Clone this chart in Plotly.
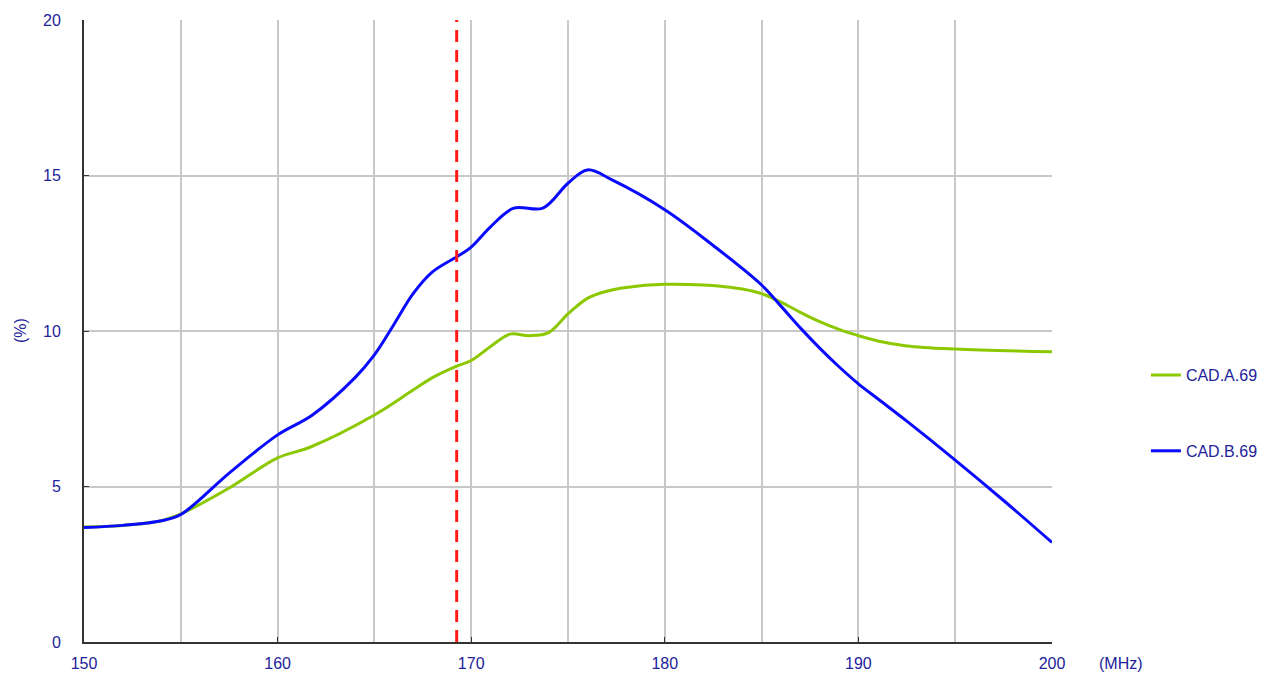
import plotly.graph_objects as go

# Data
freq_a = [150, 152, 154, 155, 157.5, 160, 161.7, 165, 167, 168, 169.25, 170, 171, 172, 173, 174, 175, 176, 177, 178, 180, 182, 183, 184, 185, 186, 187, 188, 189, 190, 191, 192.5, 195, 200]
cad_a = [3.7, 3.75, 3.9, 4.12, 4.95, 5.92, 6.27, 7.3, 8.1, 8.5, 8.87, 9.05, 9.5, 9.9, 9.85, 9.95, 10.55, 11.05, 11.28, 11.4, 11.5, 11.48, 11.43, 11.35, 11.2, 10.93, 10.6, 10.3, 10.05, 9.85, 9.68, 9.52, 9.42, 9.33]

freq_b = [150, 152, 154, 155, 157.5, 160, 161.8, 164, 165, 166, 167, 168, 169.4, 170, 171, 172.2, 173.7, 175, 176, 177.3, 180, 182.5, 185, 186, 187, 188, 189, 190, 191, 192.5, 195, 197.5, 200]
cad_b = [3.68, 3.75, 3.9, 4.1, 5.43, 6.66, 7.3, 8.5, 9.23, 10.2, 11.2, 11.9, 12.44, 12.7, 13.35, 13.95, 13.95, 14.75, 15.18, 14.85, 13.9, 12.75, 11.48, 10.8, 10.1, 9.45, 8.85, 8.3, 7.82, 7.1, 5.85, 4.55, 3.2]

marker_freq = 169.25

x_tickvals = [150, 160, 170, 180, 190, 200]
x_ticktext = ["150", "160", "170", "180", "190", "200"]
y_tickvals = [0, 5, 10, 15, 20]
y_ticktext = ["0", "5", "10", "15", "20"]

label_color = "#22229a"
font_family = "Liberation Sans, Arial, sans-serif"

fig = go.Figure()
fig.add_trace(go.Scatter(x=freq_a, y=cad_a, mode="lines", name="CAD.A.69",
                         line=dict(color="#8cc800", width=3, shape="spline", smoothing=1.0),
                         legendgroup="a"))
fig.add_trace(go.Scatter(x=freq_b, y=cad_b, mode="lines", name="CAD.B.69",
                         line=dict(color="#0a0aff", width=3, shape="spline", smoothing=1.0),
                         legendgroup="b"))

fig.add_shape(type="line", x0=marker_freq, x1=marker_freq, y0=0, y1=20,
              xref="x", yref="y", line=dict(color="#ff1a1a", width=3, dash="12px,8px"))

fig.add_annotation(text="(MHz)", xref="paper", yref="paper", x=1.0465, y=0, yshift=-21,
                   showarrow=False, xanchor="left", yanchor="middle",
                   font=dict(size=16, color=label_color, family=font_family))
fig.add_annotation(text="(%)", xref="paper", yref="paper", x=-0.066, y=0.5,
                   textangle=-90, showarrow=False, xanchor="center", yanchor="middle",
                   font=dict(size=16, color=label_color, family=font_family))

# page body has an 8px margin, so margins are shifted to land the plot where the reference has it
fig.update_layout(
    width=1278, height=686,
    margin=dict(l=76, r=234, t=12, b=52),
    paper_bgcolor="white", plot_bgcolor="white",
    font=dict(family=font_family, size=16, color=label_color),
    showlegend=True,
    legend=dict(x=1.097, y=0.368, xanchor="left", yanchor="middle",
                tracegroupgap=52, font=dict(size=16, color=label_color),
                itemwidth=30, bgcolor="rgba(0,0,0,0)"),
)
fig.update_xaxes(range=[150, 200], tickvals=x_tickvals, ticktext=x_ticktext,
                 showgrid=True, gridcolor="#c8c8c8", gridwidth=2,
                 minor=dict(dtick=5, showgrid=True, gridcolor="#c8c8c8", gridwidth=2),
                 showline=True, linecolor="#333333", linewidth=2,
                 zeroline=False, ticks="inside", ticklen=5, tickcolor="#333333",
                 ticklabelstandoff=6, automargin=False)
fig.update_yaxes(range=[0, 20], tickvals=y_tickvals, ticktext=y_ticktext,
                 showgrid=True, gridcolor="#c8c8c8", gridwidth=2,
                 showline=True, linecolor="#333333", linewidth=2,
                 zeroline=False, ticks="inside", ticklen=5, tickcolor="#333333",
                 ticklabelstandoff=18, automargin=False)

fig.write_html("out.html")
